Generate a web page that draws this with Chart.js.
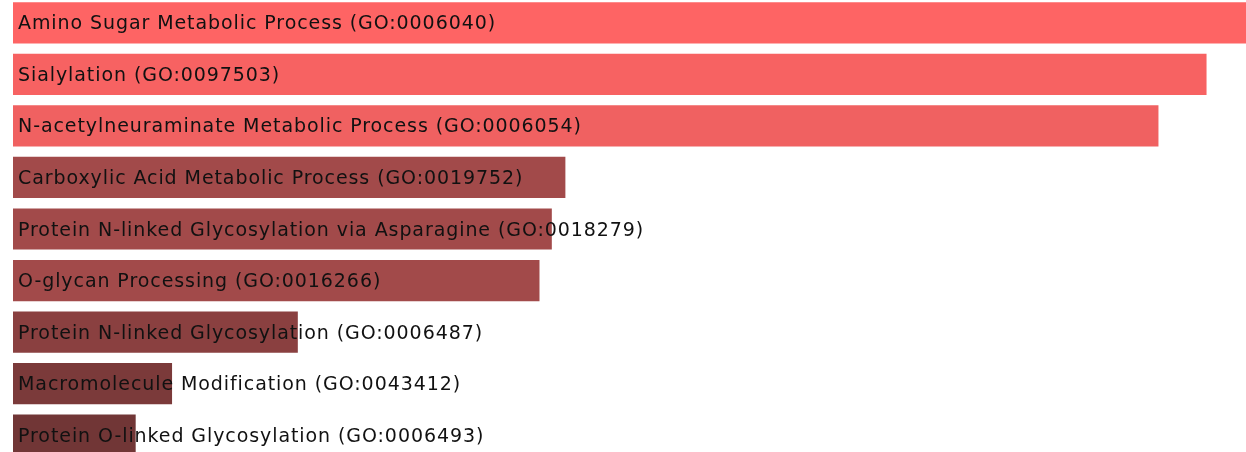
<!DOCTYPE html>
<html>
<head>
<meta charset="utf-8">
<script src="https://cdn.jsdelivr.net/npm/chart.js@4/dist/chart.umd.min.js"></script>
<style>
  html, body { margin: 0; padding: 0; background: #fff; overflow: hidden; }
  #wrap { position: absolute; left: 0; top: -3px; width: 1246px; height: 464px; }
</style>
</head>
<body>
<div id="wrap"><canvas id="goChart"></canvas></div>
<script>
// GO terms, in ranked order
const terms = [
  'Amino Sugar Metabolic Process (GO:0006040)',
  'Sialylation (GO:0097503)',
  'N-acetylneuraminate Metabolic Process (GO:0006054)',
  'Carboxylic Acid Metabolic Process (GO:0019752)',
  'Protein N-linked Glycosylation via Asparagine (GO:0018279)',
  'O-glycan Processing (GO:0016266)',
  'Protein N-linked Glycosylation (GO:0006487)',
  'Macromolecule Modification (GO:0043412)',
  'Protein O-linked Glycosylation (GO:0006493)'
];

// relative enrichment score (bar length, top term = 1)
const scores = [1.0, 0.968, 0.929, 0.448, 0.437, 0.427, 0.231, 0.129, 0.0995];

// bar fill, brighter = more significant
const barColors = ['#fe6464', '#f76262', '#f06161', '#a24a4a', '#a24a4a', '#a24a4a', '#8a4040', '#7b3a3a', '#713636'];

// draw each term name over its bar
const termLabels = {
  id: 'termLabels',
  afterDatasetsDraw(chart) {
    const ctx = chart.ctx;
    const meta = chart.getDatasetMeta(0);
    const left = chart.chartArea.left;
    ctx.save();
    ctx.font = '19px "DejaVu Sans"';
    if ('letterSpacing' in ctx) ctx.letterSpacing = '0.92px';
    ctx.fillStyle = '#111';
    ctx.textBaseline = 'alphabetic';
    ctx.textAlign = 'left';
    meta.data.forEach((bar, i) => {
      ctx.fillText(chart.data.labels[i], left + 5, bar.y + 6.5);
    });
    ctx.restore();
  }
};

const ctx = document.getElementById('goChart').getContext('2d');
const goChart = new Chart(ctx, {
  type: 'bar',
  data: {
    labels: terms,
    datasets: [{
      data: scores,
      backgroundColor: barColors,
      borderWidth: 0,
      barPercentage: 0.8,
      categoryPercentage: 1.0
    }]
  },
  options: {
    indexAxis: 'y',
    responsive: true,
    maintainAspectRatio: false,
    animation: false,
    layout: { padding: { left: 13, right: 0, top: 0, bottom: 0 } },
    plugins: {
      legend: { display: false },
      tooltip: { enabled: false }
    },
    scales: {
      x: { min: 0, max: 1, display: false },
      y: { display: false }
    }
  },
  plugins: [termLabels]
});
</script>
</body>
</html>
